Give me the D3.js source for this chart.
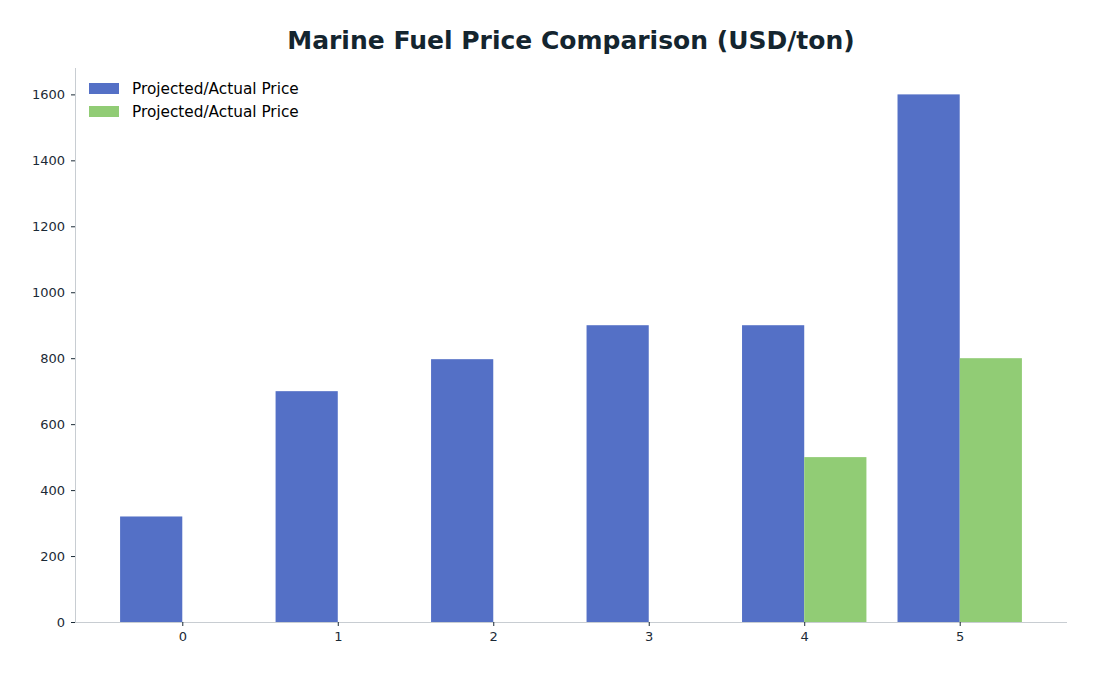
<!DOCTYPE html>
<html lang="en">
<head>
    <meta charset="UTF-8">
    <title>Marine Fuel Price Comparison</title>
    <script src="https://d3js.org/d3.v7.min.js"></script>
    <style>
        body { margin: 0; background: #fff; }
        svg { font-family: "DejaVu Sans", sans-serif; }
    </style>
</head>
<body>
    <svg width="1096" height="676"></svg>
    <script>
        var categories = [0, 1, 2, 3, 4, 5];
        var seriesA = [320, 700, 797, 900, 900, 1600];
        var seriesB = [0, 0, 0, 0, 500, 800];
        var seriesNames = ["Projected/Actual Price", "Projected/Actual Price"];
        var colors = ["#5470c6", "#91cc75"];
        var yTicks = [0, 200, 400, 600, 800, 1000, 1200, 1400, 1600];

        var svg = d3.select("svg");
        var plotLeft = 75, plotRight = 1067, plotTop = 68, plotBottom = 622;
        var barW = 0.4;

        var x = d3.scaleLinear().domain([-0.69, 5.69]).range([plotLeft, plotRight]);
        var y = d3.scaleLinear().domain([0, 1680]).range([plotBottom, plotTop]);

        svg.append("text")
            .attr("x", 571).attr("y", 49)
            .attr("text-anchor", "middle")
            .attr("font-size", "25px").attr("font-weight", "bold")
            .attr("fill", "#14252f")
            .text("Marine Fuel Price Comparison (USD/ton)");

        var series = [seriesA, seriesB];
        series.forEach(function (vals, s) {
            svg.append("g").selectAll("rect")
                .data(vals)
                .enter().append("rect")
                .attr("x", (d, i) => x(categories[i] - barW + s * barW))
                .attr("width", (d, i) => x(categories[i] + barW) - x(categories[i]))
                .attr("y", d => y(d))
                .attr("height", d => y(0) - y(d))
                .attr("fill", colors[s]);
        });

        function styleAxis(g) {
            g.attr("font-family", "DejaVu Sans, sans-serif").attr("font-size", 13);
            g.select(".domain").attr("stroke", "#c8cdd2");
            g.selectAll(".tick line").attr("stroke", "#1b2a36");
            g.selectAll(".tick text").attr("fill", "#1b2a36").attr("font-size", 13);
        }

        var xAxis = d3.axisBottom(x).tickValues(categories).tickSize(4).tickPadding(6).tickFormat(d3.format("d"));
        var gx = svg.append("g").attr("transform", "translate(0," + plotBottom + ")").call(xAxis).call(styleAxis);
        gx.select(".domain").attr("d", "M" + plotLeft + ",0.5H" + plotRight);

        var yAxis = d3.axisLeft(y).tickValues(yTicks).tickSize(4).tickPadding(6).tickFormat(d3.format("d"));
        var gy = svg.append("g").attr("transform", "translate(" + plotLeft + ",0)").call(yAxis).call(styleAxis);
        gy.select(".domain").attr("d", "M0.5," + plotBottom + "V" + plotTop);

        var legend = svg.append("g").attr("transform", "translate(89,83)");
        seriesNames.forEach(function (name, i) {
            var row = legend.append("g").attr("transform", "translate(0," + (i * 23) + ")");
            row.append("rect").attr("width", 30).attr("height", 11).attr("fill", colors[i]);
            row.append("text").attr("x", 43).attr("y", 11)
                .attr("font-size", "15.3px").attr("fill", "#000")
                .text(name);
        });
    </script>
</body>
</html>
